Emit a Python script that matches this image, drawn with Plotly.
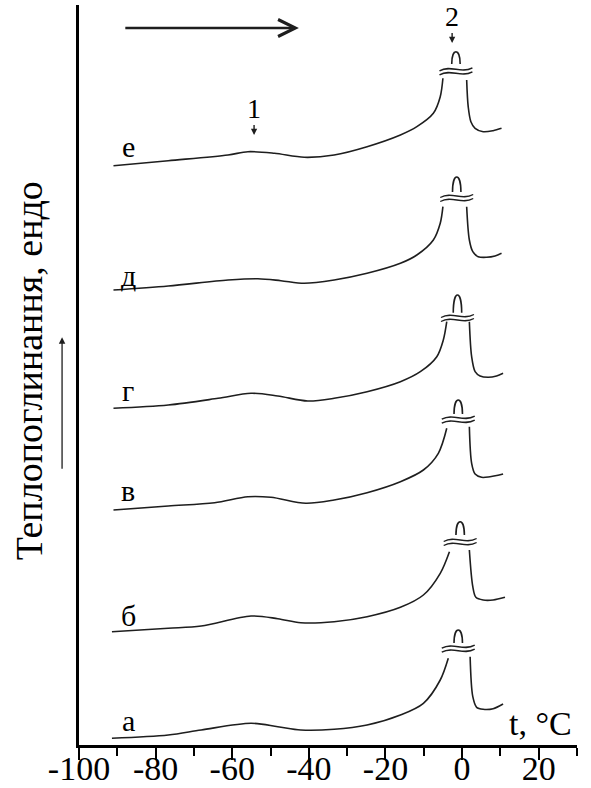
import plotly.graph_objects as go

# DSC heating runs (endo up), six samples stacked with vertical offsets.
# Each run: low-temperature branch up to the clipped melting peak, high-temperature branch after it.

# --- run "е" ---
T_LOW_E = [-91.0, -76.7, -61.1, -55.9, -49.0, -41.2, -33.4, -24.8, -16.1, -11.8, -7.5, -5.7, -5.0]
Y_LOW_E = [579.3, 584.3, 590.0, 593.3, 591.7, 587.7, 590.0, 598.3, 610.0, 618.3, 631.7, 648.3, 666.7]
T_HIGH_E = [1.2, 1.6, 2.3, 3.4, 5.5, 8.1, 10.3]
Y_HIGH_E = [665.0, 638.3, 623.3, 616.7, 613.3, 614.3, 616.7]

# --- run "д" ---
T_LOW_D = [-91.0, -76.7, -61.1, -53.3, -47.3, -41.2, -33.4, -24.8, -16.1, -11.8, -7.5, -5.7, -5.0]
Y_LOW_D = [455.0, 459.0, 465.0, 466.3, 464.3, 461.7, 465.0, 471.7, 481.7, 490.0, 505.0, 521.7, 538.3]
T_HIGH_D = [1.2, 1.9, 2.8, 4.2, 6.4, 8.6, 10.3]
Y_HIGH_D = [538.3, 505.0, 493.3, 488.3, 487.7, 489.0, 491.7]

# --- run "г" ---
T_LOW_G = [-91.0, -76.7, -63.7, -55.1, -48.1, -40.3, -33.4, -24.8, -16.1, -10.9, -6.6, -4.9, -4.0]
Y_LOW_G = [336.7, 340.0, 346.7, 351.7, 349.0, 344.0, 346.7, 353.3, 363.3, 373.3, 388.3, 405.0, 423.3]
T_HIGH_G = [1.9, 2.5, 3.4, 4.7, 6.8, 9.0, 10.7]
Y_HIGH_G = [423.3, 388.3, 373.3, 369.0, 367.7, 369.0, 371.7]

# --- run "в" ---
T_LOW_V = [-91.0, -76.7, -64.6, -55.9, -49.9, -40.8, -33.4, -24.8, -16.1, -10.1, -6.2, -4.0]
Y_LOW_V = [235.0, 239.0, 242.3, 248.3, 247.7, 241.7, 245.0, 252.3, 263.3, 275.0, 291.7, 316.7]
T_HIGH_V = [1.9, 2.5, 3.4, 5.1, 7.3, 9.4, 10.7]
Y_HIGH_V = [318.3, 281.7, 271.0, 267.7, 268.3, 269.7, 271.0]

# --- run "б" ---
T_LOW_B = [-91.4, -76.7, -68.1, -55.1, -48.1, -42.1, -33.4, -24.8, -16.1, -10.1, -5.7, -3.3]
Y_LOW_B = [113.3, 116.7, 119.0, 129.0, 126.3, 122.3, 123.3, 128.3, 137.7, 150.0, 171.7, 193.3]
T_HIGH_B = [1.9, 2.8, 3.6, 5.5, 8.1, 11.2]
Y_HIGH_B = [195.0, 158.3, 147.7, 145.0, 145.0, 147.7]

# --- run "а" ---
T_LOW_A = [-91.4, -76.7, -68.1, -55.1, -48.1, -42.1, -33.4, -24.8, -16.1, -10.1, -5.7, -3.6]
Y_LOW_A = [6.7, 10.0, 15.0, 21.7, 18.3, 15.0, 15.7, 20.0, 30.0, 41.7, 65.0, 86.7]
T_HIGH_A = [2.1, 2.8, 3.8, 5.5, 8.1, 10.7]
Y_HIGH_A = [88.3, 48.3, 37.7, 35.7, 36.3, 41.0]

# run order top to bottom
RUN_NAMES = ["е", "д", "г", "в", "б", "а"]
# clipped peak: centre temperature, level of the axis break, base and top of the visible tip
PEAK_T = [-1.6, -1.4, -1.2, -1.0, -0.5, -1.0]
BREAK_Y = [671.7, 545.0, 425.0, 323.3, 201.0, 94.3]
TIP_BASE = [681.0, 553.0, 432.3, 331.0, 210.0, 102.0]
TIP_TOP = [693.3, 568.0, 450.0, 345.0, 223.3, 115.0]
# run labels
LABEL_T = -87.1
LABEL_Y = [598.3, 470.0, 355.0, 255.0, 130.0, 25.0]

# axis
X_RANGE = [-100, 30]
X_MAJOR = [-100, -80, -60, -40, -20, 0, 20]
X_MAJOR_TEXT = ["-100", "-80", "-60", "-40", "-20", "0", "20"]
X_MINOR = [-90, -70, -50, -30, -10, 10, 30]

# transitions marked with arrows: (number, temperature, arrow tip level)
MARKS = [("1", -54.3, 610.0), ("2", -2.6, 702.0)]

INK = "#1e1e1e"
SERIF = "Liberation Serif, Times New Roman, serif"

LOW = [(T_LOW_E, Y_LOW_E), (T_LOW_D, Y_LOW_D), (T_LOW_G, Y_LOW_G),
       (T_LOW_V, Y_LOW_V), (T_LOW_B, Y_LOW_B), (T_LOW_A, Y_LOW_A)]
HIGH = [(T_HIGH_E, Y_HIGH_E), (T_HIGH_D, Y_HIGH_D), (T_HIGH_G, Y_HIGH_G),
        (T_HIGH_V, Y_HIGH_V), (T_HIGH_B, Y_HIGH_B), (T_HIGH_A, Y_HIGH_A)]

fig = go.Figure()
line_style = dict(color=INK, width=1.6, shape="spline", smoothing=0.9)

shapes = []
annotations = []
for i, name in enumerate(RUN_NAMES):
    tl, yl = LOW[i]
    th, yh = HIGH[i]
    fig.add_trace(go.Scatter(x=tl, y=yl, mode="lines", line=line_style,
                             showlegend=False, hoverinfo="skip"))
    # high-temperature branch lives on the overlay axis that carries the tick labels
    fig.add_trace(go.Scatter(x=th, y=yh, mode="lines", line=line_style, xaxis="x2",
                             showlegend=False, hoverinfo="skip"))
    c = PEAK_T[i]
    # tip of the clipped peak
    b, top = TIP_BASE[i], TIP_TOP[i]
    w = 1.1
    ctrl = b + (top - b) / 0.75
    shapes.append(dict(type="path", xref="x", yref="y",
                       path=f"M {c - w},{b} C {c - w},{ctrl} {c + w},{ctrl} {c + w},{b}",
                       line=dict(color=INK, width=1.6)))
    # double wavy break mark
    half = 4.3
    for yb in (BREAK_Y[i], BREAK_Y[i] + 4.0):
        xl, xr = c - half, c + half
        shapes.append(dict(type="path", xref="x", yref="y",
                           path=(f"M {xl},{yb - 1.5} C {xl + 3.0},{yb + 5} "
                                 f"{xr - 3.0},{yb - 5} {xr},{yb + 1.5}"),
                           line=dict(color=INK, width=1.4)))
    annotations.append(dict(x=LABEL_T, y=LABEL_Y[i], xref="x", yref="y", text=name,
                            showarrow=False, font=dict(family=SERIF, size=30, color="black")))

# numbered transition markers
for num, tx, ty in MARKS:
    annotations.append(dict(x=tx, y=ty, xref="x", yref="y", text=num, showarrow=True,
                            ax=0, ay=-27, arrowhead=2, arrowsize=0.9, arrowwidth=1.4,
                            arrowcolor=INK, standoff=0,
                            font=dict(family=SERIF, size=28, color="black")))

# heating direction arrow
annotations.append(dict(x=-42.6, y=717, xref="x", yref="y", ax=-88.3, ay=717,
                        axref="x", ayref="y", text="", showarrow=True,
                        arrowhead=5, arrowsize=1.4, arrowwidth=2.4, arrowcolor=INK))

# vertical axis title with "endo up" arrow
annotations.append(dict(x=-0.1004, y=0.505, xref="paper", yref="paper",
                        xanchor="center", yanchor="middle",
                        text="Теплопоглинання, ендо", textangle=-90, showarrow=False,
                        font=dict(family=SERIF, size=38, color="black")))
annotations.append(dict(x=-0.034, y=0.551, xref="paper", yref="paper", text="",
                        showarrow=True, ax=0, ay=133, arrowhead=2, arrowsize=1.0,
                        arrowwidth=1.3, arrowcolor=INK))

# temperature axis unit
annotations.append(dict(x=20.5, y=22, xref="x", yref="y", text="t, °C", showarrow=False,
                        xanchor="center", yanchor="middle",
                        font=dict(family=SERIF, size=34, color="black")))

fig.update_layout(
    width=591, height=788,
    margin=dict(l=79, r=14, t=5, b=43, autoexpand=False),
    paper_bgcolor="white", plot_bgcolor="white",
    shapes=shapes, annotations=annotations,
    showlegend=False,
    # axis line and tick marks
    xaxis=dict(range=X_RANGE, showline=True, linewidth=3, linecolor="black",
               showgrid=False, zeroline=False, ticks="outside", ticklen=12, tickwidth=2,
               tickcolor="black", tickmode="array", tickvals=X_MAJOR,
               showticklabels=False, automargin=False,
               minor=dict(tickmode="array", tickvals=X_MINOR, ticks="outside",
                          ticklen=8, tickwidth=2, tickcolor="black"),
               fixedrange=True),
    # tick labels, set close under the axis line
    xaxis2=dict(range=X_RANGE, overlaying="x", anchor="y", side="bottom",
                showline=False, showgrid=False, zeroline=False, ticks="",
                tickmode="array", tickvals=X_MAJOR, ticktext=X_MAJOR_TEXT,
                tickfont=dict(family=SERIF, size=34, color="black"),
                automargin=False, fixedrange=True),
    yaxis=dict(range=[0, 740], showline=True, linewidth=3, linecolor="black",
               showgrid=False, zeroline=False, showticklabels=False, ticks="",
               automargin=False, fixedrange=True),
)

fig.write_html("out.html")
